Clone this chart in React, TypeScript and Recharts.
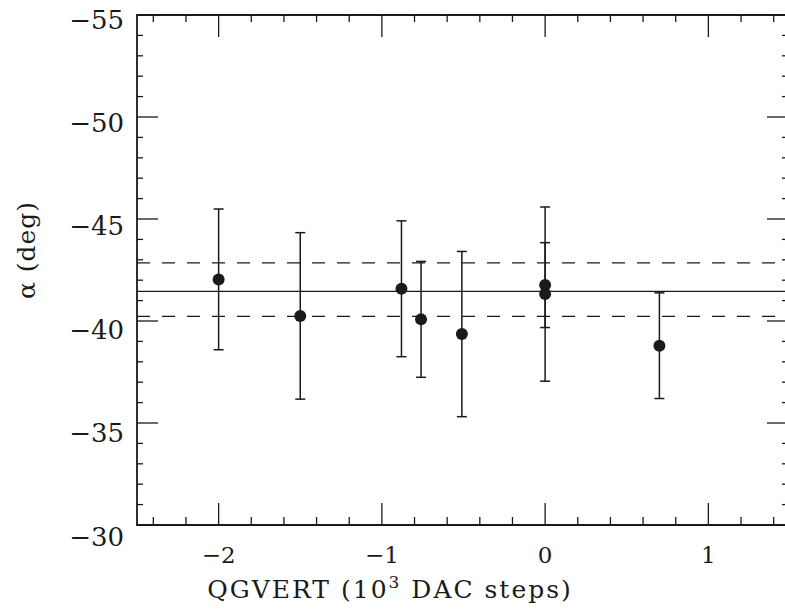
import React from 'react';
import { ComposedChart, Scatter, XAxis, YAxis, ErrorBar, ReferenceLine, ReferenceArea, Label } from 'recharts';

// measured points: QGVERT setting (10^3 DAC steps) vs alpha (deg), symmetric errors
const qgvert = [-2.0, -1.5, -0.88, -0.76, -0.51, 0.0, 0.0, 0.7];
const alpha = [-42.04, -40.25, -41.58, -40.08, -39.36, -41.76, -41.32, -38.79];
const alphaErr = [3.45, 4.08, 3.33, 2.84, 4.05, 2.08, 4.27, 2.59];

// fitted mean and its band
const fitMean = -41.45;
const fitUpper = -42.85;
const fitLower = -40.23;

const xDomain = [-2.5, 1.5];
const yDomain = [-55, -30];
const xMajor = [-2, -1, 0, 1];
const xTicks = [-2.4, -2.2, -2, -1.8, -1.6, -1.4, -1.2, -1, -0.8, -0.6, -0.4, -0.2, 0, 0.2, 0.4, 0.6, 0.8, 1, 1.2, 1.4];
const yMajor = [-55, -50, -45, -40, -35, -30];
const yTicks = [
  -55, -54, -53, -52, -51, -50, -49, -48, -47, -46, -45, -44, -43,
  -42, -41, -40, -39, -38, -37, -36, -35, -34, -33, -32, -31, -30,
];

const points = qgvert.map((x, i) => ({ x, y: alpha[i], err: alphaErr[i] }));

const INK = '#1a1a1a';
const FONT = '"DejaVu Serif", serif';

// plot frame (chart is 800 wide, the right edge falls just outside the window)
const W = 800;
const H = 609;
const LEFT = 137;
const TOP = 15;
const RIGHT = 790;
const BOTTOM = 525;

const fmt = (v: number) => (v < 0 ? '\u2212' + Math.abs(v) : String(v));

// x ticks point inward from both the bottom and the top edge
const XTick = ({ x, payload }: any) => {
  const major = xMajor.includes(payload.value);
  return (
    <g>
      <line x1={x} x2={x} y1={BOTTOM} y2={BOTTOM - (major ? 22 : 8)} stroke={INK} strokeWidth={1.3} />
      <line x1={x} x2={x} y1={TOP} y2={TOP + (major ? 22 : 7)} stroke={INK} strokeWidth={1.3} />
      {major && (
        <text x={x} y={BOTTOM + 38} textAnchor="middle" fontFamily={FONT} fontSize={23} fill={INK}>
          {fmt(payload.value)}
        </text>
      )}
    </g>
  );
};

// y ticks point inward from both the left and the right edge
const YTick = ({ y, payload }: any) => {
  const major = yMajor.includes(payload.value);
  const shift = 4 + (payload.value + 55) * 0.28;
  return (
    <g>
      <line x1={LEFT} x2={LEFT + (major ? 21 : 6)} y1={y} y2={y} stroke={INK} strokeWidth={1.3} />
      <line x1={RIGHT} x2={RIGHT - (major ? 23 : 8)} y1={y} y2={y} stroke={INK} strokeWidth={1.3} />
      {major && (
        <text x={LEFT - 13} y={y + shift + 9.5} textAnchor="end" fontFamily={FONT} fontSize={26} fill={INK}>
          {fmt(payload.value)}
        </text>
      )}
    </g>
  );
};

const Dot = ({ cx, cy }: any) => <circle cx={cx} cy={cy} r={6} fill={INK} />;

const XTitle = () => (
  <text x={390} y={598} textAnchor="middle" fontFamily={FONT} fontSize={25} letterSpacing={2} fill={INK}>
    QGVERT (10
    <tspan dy={-10} fontSize={17}>3</tspan>
    <tspan dy={10}> DAC steps)</tspan>
  </text>
);

const YTitle = () => (
  <text
    x={35}
    y={250}
    transform="rotate(-90, 35, 250)"
    textAnchor="middle"
    fontFamily={FONT}
    fontSize={25}
    letterSpacing={1}
    fill={INK}
  >
    {'\u03b1 (deg)'}
  </text>
);

export default function App() {
  return (
    <div style={{ position: 'absolute', left: 0, top: 0, width: 785, height: 609, overflow: 'hidden', background: '#fff' }}>
      <ComposedChart width={W} height={H} margin={{ top: TOP, right: W - RIGHT, bottom: 0, left: 0 }}>
        <XAxis
          dataKey="x"
          type="number"
          domain={xDomain}
          allowDataOverflow
          ticks={xTicks}
          interval={0}
          height={H - BOTTOM}
          tickLine={false}
          axisLine={false}
          tick={<XTick />}
        >
          <Label content={<XTitle />} />
        </XAxis>
        <YAxis
          dataKey="y"
          type="number"
          domain={yDomain}
          reversed
          allowDataOverflow
          ticks={yTicks}
          interval={0}
          width={LEFT}
          tickLine={false}
          axisLine={false}
          tick={<YTick />}
        >
          <Label content={<YTitle />} />
        </YAxis>
        <ReferenceArea
          x1={xDomain[0]}
          x2={xDomain[1]}
          y1={yDomain[0]}
          y2={yDomain[1]}
          fill="none"
          fillOpacity={0}
          stroke={INK}
          strokeWidth={1.8}
        />
        <ReferenceLine y={fitUpper} stroke={INK} strokeWidth={1.3} strokeDasharray="13 12" />
        <ReferenceLine y={fitMean} stroke={INK} strokeWidth={1.3} />
        <ReferenceLine y={fitLower} stroke={INK} strokeWidth={1.3} strokeDasharray="13 12" />
        <Scatter data={points} shape={<Dot />} isAnimationActive={false}>
          <ErrorBar dataKey="err" direction="y" width={5} stroke={INK} strokeWidth={1.5} isAnimationActive={false} />
        </Scatter>
      </ComposedChart>
    </div>
  );
}
